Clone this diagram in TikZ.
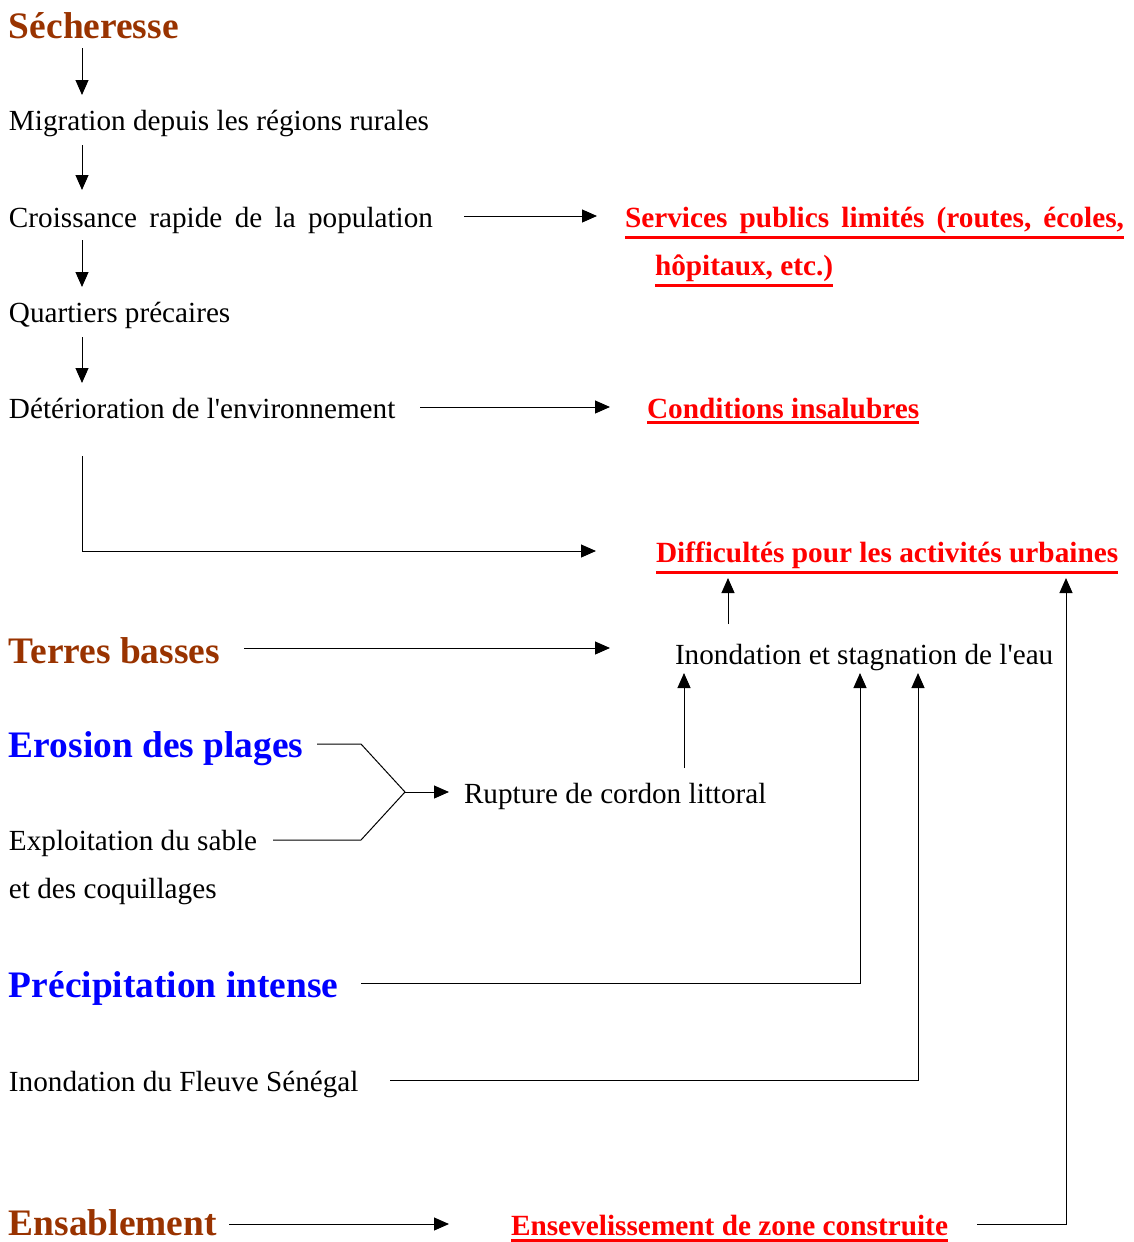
\documentclass[tikz,border=0pt]{standalone}
\usepackage{fontspec}
\setmainfont{Liberation Serif}
\usetikzlibrary{arrows.meta}
\definecolor{brownhd}{HTML}{993300}
\definecolor{bluehd}{HTML}{0000FF}
\definecolor{redhd}{HTML}{FF0000}
\newcommand\redul[1]{\vtop{\hbox{#1}\kern3pt\hrule height 2.7pt}}
\begin{document}
\begin{tikzpicture}[x=1pt,y=-1pt,
  txt/.style={anchor=base west, inner sep=0pt, outer sep=0pt, font=\fontsize{29.2}{48}\selectfont},
  head/.style={txt, font=\fontsize{37.4}{44}\selectfont\bfseries},
  brownhead/.style={head, text=brownhd},
  bluehead/.style={head, text=bluehd},
  res/.style={txt, font=\fontsize{29.3}{48}\selectfont\bfseries, text=redhd},
  arr/.style={-{Triangle[length=15pt,width=13pt]}, line width=1pt},
  link/.style={line width=1pt}]
\useasboundingbox (0,0) rectangle (1134,1242);

\node[brownhead] (sech) at (9,38) {Sécheresse};
\node[txt] (migr) at (9,130) {Migration depuis les régions rurales};
\node[txt] (crois) at (9,227) {\hbox to 424pt{Croissance\hfill rapide\hfill de\hfill la\hfill population}};
\node[res] (serv) at (625,227) {\vtop{\baselineskip=48pt
  \redul{\hbox to 499pt{Services\hfill publics\hfill limités\hfill (routes,\hfill écoles,}}
  \hbox{\hskip30pt\redul{hôpitaux, etc.)}}}};
\node[txt] (quart) at (9,322) {Quartiers précaires};
\node[txt] (deter) at (9,418) {Détérioration de l\textquotesingle environnement};
\node[res] (cond) at (647,418) {\redul{Conditions insalubres}};
\node[res] (diff) at (656,562) {\redul{Difficultés pour les activités urbaines}};
\node[brownhead] (terres) at (9,663) {Terres basses};
\node[txt] (inond) at (675,664) {Inondation et stagnation de l\textquotesingle eau};
\node[bluehead] (erosion) at (9,757) {Erosion des plages};
\node[txt] (rupt) at (464,803) {Rupture de cordon littoral};
\node[txt] (exploit) at (9,850) {\vtop{\baselineskip=48pt\hbox{Exploitation du sable}\hbox{et des coquillages}}};
\node[bluehead] (precip) at (9,997) {Précipitation intense};
\node[txt] (fleuve) at (9,1091) {Inondation du Fleuve Sénégal};
\node[brownhead] (ensab) at (9,1235) {Ensablement};
\node[res] (ensev) at (511,1235.5) {\redul{Ensevelissement de zone construite}};

\coordinate (junc) at (405,792);

\draw[arr] ([shift={(73,10)}]sech.base west) -- ([shift={(73,-35)}]migr.base west);
\draw[arr] ([shift={(73,15)}]migr.base west) -- ([shift={(73,-37)}]crois.base west);
\draw[arr] ([shift={(455,-11)}]crois.base west) -- ([shift={(-28,-11)}]serv.base west);
\draw[arr] ([shift={(73,13)}]crois.base west) -- ([shift={(73,-35)}]quart.base west);
\draw[arr] ([shift={(73,15)}]quart.base west) -- ([shift={(73,-35)}]deter.base west);
\draw[arr] ([shift={(411,-11)}]deter.base west) -- ([shift={(-37,-11)}]cond.base west);
\draw[arr] ([shift={(73,38)}]deter.base west) |- ([shift={(-60,-11)}]diff.base west);
\draw[arr] ([shift={(53,-40)}]inond.base west) -- ([shift={(72,16)}]diff.base west);
\draw[arr] ([shift={(466,-11.5)}]ensev.base west) -| ([shift={(410,16)}]diff.base west);
\draw[arr] ([shift={(235,-15)}]terres.base west) -- ([shift={(-65,-16)}]inond.base west);
\draw[arr] ([shift={(220,-35)}]rupt.base west) -- ([shift={(9,9)}]inond.base west);
\draw[arr] ([shift={(352,-14)}]precip.base west) -| ([shift={(185,9)}]inond.base west);
\draw[arr] ([shift={(381,-11)}]fleuve.base west) -| ([shift={(243,9)}]inond.base west);
\draw[link] ([shift={(308,-13)}]erosion.base west) -- ++(44,0) -- (junc) -- (361,840) -- ([shift={(264,-10)}]exploit.base west);
\draw[arr] (junc) -- ([shift={(-15,-11)}]rupt.base west);
\draw[arr] ([shift={(220,-11)}]ensab.base west) -- ([shift={(-62,-11.5)}]ensev.base west);
\end{tikzpicture}
\end{document}
